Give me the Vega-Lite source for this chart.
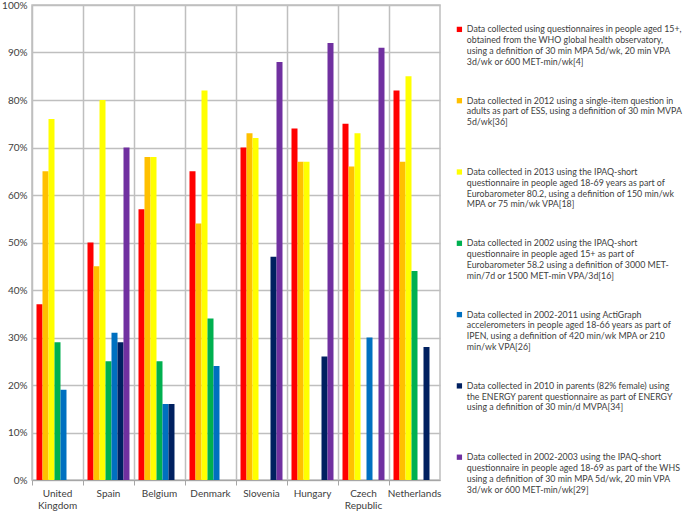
{
  "$schema": "https://vega.github.io/schema/vega-lite/v6.json",
  "autosize": {"type": "none"},
  "width": 408,
  "height": 475,
  "padding": {"left": 32, "top": 5, "right": 245, "bottom": 32},
  "background": "white",
  "datasets": {
    "series": [
      {"s": "A", "label": "Data collected using questionnaires in people aged 15+,|obtained from the WHO global health observatory,|using a definition of 30 min MPA 5d/wk, 20 min VPA|3d/wk or 600 MET-min/wk[4]"},
      {"s": "B", "label": "Data collected in 2012 using a single-item question in|adults as part of ESS, using a definition of 30 min MVPA|5d/wk[36]"},
      {"s": "C", "label": "Data collected in 2013 using the IPAQ-short|questionnaire in people aged 18-69 years as part of|Eurobarometer 80.2, using a definition of 150 min/wk|MPA or 75 min/wk VPA[18]"},
      {"s": "D", "label": "Data collected in 2002 using the IPAQ-short|questionnaire in people aged 15+ as part of|Eurobarometer 58.2 using a definition of 3000 MET-|min/7d or 1500 MET-min VPA/3d[16]"},
      {"s": "E", "label": "Data collected in 2002-2011 using ActiGraph|accelerometers in people aged 18-66 years as part of|IPEN, using a definition of 420 min/wk MPA or 210|min/wk VPA[26]"},
      {"s": "F", "label": "Data collected in 2010 in parents (82% female) using|the ENERGY parent questionnaire as part of ENERGY|using a definition of 30 min/d MVPA[34]"},
      {"s": "G", "label": "Data collected in 2002-2003 using the IPAQ-short|questionnaire in people aged 18-69 as part of the WHS|using a definition of 30 min MPA 5d/wk, 20 min VPA|3d/wk or 600 MET-min/wk[29]"}
    ],
    "values": [
      {"country": "United Kingdom", "s": "A", "value": 37},
      {"country": "United Kingdom", "s": "B", "value": 65},
      {"country": "United Kingdom", "s": "C", "value": 76},
      {"country": "United Kingdom", "s": "D", "value": 29},
      {"country": "United Kingdom", "s": "E", "value": 19},
      {"country": "Spain", "s": "A", "value": 50},
      {"country": "Spain", "s": "B", "value": 45},
      {"country": "Spain", "s": "C", "value": 80},
      {"country": "Spain", "s": "D", "value": 25},
      {"country": "Spain", "s": "E", "value": 31},
      {"country": "Spain", "s": "F", "value": 29},
      {"country": "Spain", "s": "G", "value": 70},
      {"country": "Belgium", "s": "A", "value": 57},
      {"country": "Belgium", "s": "B", "value": 68},
      {"country": "Belgium", "s": "C", "value": 68},
      {"country": "Belgium", "s": "D", "value": 25},
      {"country": "Belgium", "s": "E", "value": 16},
      {"country": "Belgium", "s": "F", "value": 16},
      {"country": "Denmark", "s": "A", "value": 65},
      {"country": "Denmark", "s": "B", "value": 54},
      {"country": "Denmark", "s": "C", "value": 82},
      {"country": "Denmark", "s": "D", "value": 34},
      {"country": "Denmark", "s": "E", "value": 24},
      {"country": "Slovenia", "s": "A", "value": 70},
      {"country": "Slovenia", "s": "B", "value": 73},
      {"country": "Slovenia", "s": "C", "value": 72},
      {"country": "Slovenia", "s": "F", "value": 47},
      {"country": "Slovenia", "s": "G", "value": 88},
      {"country": "Hungary", "s": "A", "value": 74},
      {"country": "Hungary", "s": "B", "value": 67},
      {"country": "Hungary", "s": "C", "value": 67},
      {"country": "Hungary", "s": "F", "value": 26},
      {"country": "Hungary", "s": "G", "value": 92},
      {"country": "Czech Republic", "s": "A", "value": 75},
      {"country": "Czech Republic", "s": "B", "value": 66},
      {"country": "Czech Republic", "s": "C", "value": 73},
      {"country": "Czech Republic", "s": "E", "value": 30},
      {"country": "Czech Republic", "s": "G", "value": 91},
      {"country": "Netherlands", "s": "A", "value": 82},
      {"country": "Netherlands", "s": "B", "value": 67},
      {"country": "Netherlands", "s": "C", "value": 85},
      {"country": "Netherlands", "s": "D", "value": 44},
      {"country": "Netherlands", "s": "F", "value": 28}
    ]
  },
  "data": {"name": "values"},
  "transform": [
    {"lookup": "s", "from": {"data": {"name": "series"}, "key": "s", "fields": ["label"]}}
  ],
  "mark": {"type": "bar"},
  "encoding": {
    "x": {
      "field": "country",
      "type": "nominal",
      "sort": ["United Kingdom", "Spain", "Belgium", "Denmark", "Slovenia", "Hungary", "Czech Republic", "Netherlands"],
      "scale": {"paddingInner": 0, "paddingOuter": 0},
      "axis": {
        "title": null,
        "labelAngle": 0,
        "bandPosition": 0,
        "labelFont": "Lato",
        "labelFontSize": 10,
        "labelColor": "#404040",
        "labelExpr": "split(datum.label, ' ')",
        "labelPadding": 3,
        "labelLineHeight": 12,
        "tickColor": "#A6A6A6",
        "tickSize": 5,
        "domainColor": "#A6A6A6",
        "grid": true,
        "gridColor": "#BFBFBF",
        "gridWidth": 1.5,
        "labelBound": false
      }
    },
    "xOffset": {
      "field": "s",
      "type": "nominal",
      "scale": {"paddingInner": 0, "paddingOuter": 0.75}
    },
    "y": {
      "field": "value",
      "type": "quantitative",
      "scale": {"domain": [0, 100]},
      "axis": {
        "title": null,
        "values": [0, 10, 20, 30, 40, 50, 60, 70, 80, 90, 100],
        "labelExpr": "datum.value + '%'",
        "labelFont": "Lato",
        "labelFontSize": 10,
        "labelColor": "#404040",
        "ticks": false,
        "labelPadding": 5,
        "domain": false,
        "grid": true,
        "gridColor": "#BFBFBF",
        "gridWidth": 1.5
      }
    },
    "color": {
      "field": "label",
      "type": "nominal",
      "sort": {"field": "s", "op": "min"},
      "scale": {"range": ["#FF0000", "#FFC000", "#FFFF00", "#00B050", "#0070C0", "#002060", "#7030A0"]},
      "legend": {
        "title": null,
        "orient": "none",
        "legendX": 423,
        "legendY": 20,
        "symbolType": "square",
        "symbolSize": 28,
        "symbolStrokeWidth": 0,
        "labelFont": "Lato",
        "labelFontSize": 8.8,
        "labelColor": "#404040",
        "labelLimit": 400,
        "labelOffset": 3,
        "labelExpr": "split(datum.label, '|')",
        "rowPadding": 29.3,
        "gridAlign": "all"
      }
    }
  },
  "config": {
    "view": {"stroke": "#BFBFBF", "strokeWidth": 1.5}
  }
}
